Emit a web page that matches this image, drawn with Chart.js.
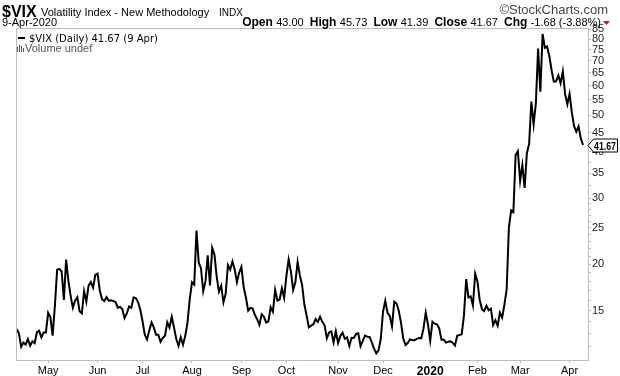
<!DOCTYPE html>
<html>
<head>
<meta charset="utf-8">
<script src="https://cdn.jsdelivr.net/npm/chart.js@4/dist/chart.umd.min.js"></script>
<style>
  html, body { margin:0; padding:0; background:#fff; }
  #wrap { width:620px; height:376px; }
</style>
</head>
<body>
<div id="wrap"><canvas id="vixChart" width="620" height="376"></canvas></div>
<script>
// daily closes of $VIX, 10-Apr-2019 .. 9-Apr-2020, one array per month
var apr19 = [13.40, 13.02, 12.01, 12.32, 12.18, 12.60, 12.09, 12.42, 12.28, 13.14, 13.25, 12.73, 13.11, 13.12]
var may19 = [14.80, 14.42, 12.87, 15.44, 19.32, 19.40, 19.10, 16.04, 20.55, 18.06, 16.44, 15.29, 15.96, 16.31, 14.95, 14.75, 16.92, 15.85, 17.50, 17.90, 17.30, 18.71]
var jun19 = [18.86, 16.97, 16.09, 15.93, 16.30, 15.94, 15.99, 15.91, 15.82, 15.28, 15.35, 15.15, 14.33, 14.75, 15.40, 15.26, 16.28, 16.21, 15.82, 15.08]
var jul19 = [14.06, 12.93, 12.57, 13.28, 13.96, 13.53, 12.93, 12.93, 12.39, 12.68, 12.86, 13.97, 13.53, 14.45, 13.53, 12.61, 12.07, 12.74, 12.16, 12.83, 13.94, 16.12]
var aug19 = [17.87, 17.61, 24.59, 20.17, 19.49, 16.91, 17.97, 21.09, 17.52, 22.10, 21.18, 18.47, 16.88, 17.50, 15.80, 16.68, 19.87, 19.32, 20.31, 19.35, 17.88, 18.98]
var sep19 = [19.66, 17.33, 16.27, 15.00, 15.27, 15.20, 14.61, 14.22, 13.74, 14.67, 14.44, 13.95, 14.05, 15.32, 14.91, 17.05, 15.96, 16.07, 17.22, 16.24]
var oct19 = [18.56, 20.56, 19.12, 17.04, 17.86, 20.28, 18.64, 17.57, 15.58, 14.57, 13.54, 13.68, 13.79, 14.25, 14.00, 14.46, 14.01, 13.71, 12.65, 13.11, 13.20, 12.33, 13.22]
var nov19 = [12.30, 12.83, 13.10, 12.62, 12.73, 12.07, 12.69, 12.68, 13.00, 13.05, 12.05, 12.46, 12.86, 12.78, 12.76, 12.34, 11.87, 11.54, 11.75, 12.62]
var dec19 = [14.91, 15.96, 14.80, 14.52, 13.62, 15.86, 15.68, 14.99, 13.94, 12.63, 12.14, 12.29, 12.58, 12.50, 12.51, 12.61, 12.67, 12.65, 13.43, 14.82, 13.78]
var jan20 = [12.47, 14.02, 13.85, 13.79, 13.45, 12.54, 12.56, 12.32, 12.39, 12.42, 12.32, 12.10, 12.85, 12.91, 12.98, 14.56, 18.23, 16.28, 16.39, 15.49, 18.84]
var feb20 = [17.97, 16.05, 15.15, 14.96, 15.47, 15.04, 15.18, 13.74, 14.15, 13.68, 14.83, 14.38, 15.56, 17.08, 25.03, 27.85, 27.56, 39.16, 40.11]
var mar20 = [33.42, 36.82, 31.99, 39.62, 41.94, 54.46, 47.30, 53.90, 75.47, 57.83, 82.69, 75.91, 76.45, 72.00, 66.04, 61.59, 61.67, 63.95, 61.00, 65.54, 57.08, 53.54]
var apr20 = [57.06, 50.91, 46.80, 45.24, 46.70, 43.35, 41.67]

var months = [apr19, may19, jun19, jul19, aug19, sep19, oct19, nov19, dec19, jan20, feb20, mar20, apr20]
var monthNames = ['', 'May', 'Jun', 'Jul', 'Aug', 'Sep', 'Oct', 'Nov', 'Dec', '2020', 'Feb', 'Mar', 'Apr']

var yLabels = [85, 80, 75, 70, 65, 60, 55, 50, 45, 40, 35, 30, 25, 20, 15]
var yMinor = [12, 13, 14, 16, 17, 18, 19, 21, 22, 23, 24, 26, 27, 28, 29, 32.5, 37.5]

var quote = {date:'9-Apr-2020', open:'43.00', high:'45.73', low:'41.39', close:'41.67', chg:'-1.68 (-3.88%)'}

// flatten months, remember where each month starts
var vix = []
var monthStart = []
for (var m = 0; m < months.length; m++) {
    monthStart.push(vix.length)
    vix = vix.concat(months[m])
}
var points = vix.map(function(v, i){ return {x:i, y:v} })
var lastVal = vix[vix.length - 1]

var FONT = '"Liberation Sans", Arial, sans-serif'

var decor = {
    id: 'decor',
    beforeDraw: function(chart){
        var c = chart.ctx
        c.save()
        c.fillStyle = '#fff'
        c.fillRect(0, 0, chart.width, chart.height)
        c.restore()
    },
    afterDraw: function(chart){
        var c = chart.ctx
        var a = chart.chartArea
        c.save()
        // top + left frame
        c.strokeStyle = '#bdbdbd'
        c.lineWidth = 1
        c.beginPath()
        c.moveTo(a.left + 0.5, a.bottom)
        c.lineTo(a.left + 0.5, a.top + 0.5)
        c.lineTo(a.right, a.top + 0.5)
        c.stroke()

        // title row
        c.fillStyle = '#000'
        c.textBaseline = 'alphabetic'
        c.font = 'bold 16px ' + FONT
        c.fillText('$VIX', 2, 17)
        c.font = '11px ' + FONT
        c.fillText('Volatility Index - New Methodology', 41, 16)
        c.font = '10px ' + FONT
        c.fillText('INDX', 219, 16)
        c.fillStyle = '#444'
        c.font = '13px ' + FONT
        c.textAlign = 'right'
        c.fillText('\u00A9StockCharts.com', 608, 14)
        c.textAlign = 'left'

        // date + quote row
        c.fillStyle = '#000'
        c.font = '11px ' + FONT
        c.fillText(quote.date, 2, 26)
        var parts = [['Open ', 1], [quote.open + '  ', 0], ['High ', 1], [quote.high + '  ', 0],
                     ['Low ', 1], [quote.low + '  ', 0], ['Close ', 1], [quote.close + '  ', 0],
                     ['Chg ', 1], [quote.chg, 0]]
        var total = 0
        parts.forEach(function(p){
            c.font = (p[1] ? 'bold 12px ' : '11px ') + FONT
            total += c.measureText(p[0]).width
        })
        var x = 601 - total
        parts.forEach(function(p){
            c.font = (p[1] ? 'bold 12px ' : '11px ') + FONT
            c.fillText(p[0], x, 26)
            x += c.measureText(p[0]).width
        })
        c.fillStyle = '#a3243b'
        c.beginPath()
        c.moveTo(603, 21); c.lineTo(610, 21); c.lineTo(606.5, 25); c.closePath()
        c.fill()

        // legend
        c.strokeStyle = '#000'
        c.lineWidth = 2
        c.beginPath(); c.moveTo(18, 38); c.lineTo(25, 38); c.stroke()
        c.fillStyle = '#000'
        c.font = '10px "DejaVu Sans", sans-serif'
        c.fillText('$VIX (Daily) ' + lastVal.toFixed(2) + ' (9 Apr)', 29, 42, 148)
        c.fillStyle = '#555'
        c.fillRect(17, 47, 1, 5); c.fillRect(19, 45, 1, 7); c.fillRect(21, 46, 1, 6); c.fillRect(23, 48, 1, 4)
        c.font = '11px ' + FONT
        c.fillText('Volume undef', 25, 52)

        // last value tag on the right axis
        var y = Math.round(chart.scales.y.getPixelForValue(lastVal)) + 0.5
        c.fillStyle = '#fff'
        c.strokeStyle = '#000'
        c.lineWidth = 1
        c.beginPath()
        c.moveTo(588, y)
        c.lineTo(593.5, y - 6.5)
        c.lineTo(617.5, y - 6.5)
        c.lineTo(617.5, y + 6.5)
        c.lineTo(593.5, y + 6.5)
        c.closePath()
        c.fill(); c.stroke()
        c.fillStyle = '#000'
        c.font = 'bold 11px ' + FONT
        c.fillText(lastVal.toFixed(2), 594, y + 4, 22)
        c.restore()
    }
}

var ctx = document.getElementById('vixChart').getContext('2d')
var vixChart = new Chart(ctx, {
    type: 'line',
    plugins: [decor],
    data: {
        datasets: [{
            label: '$VIX',
            data: points,
            borderColor: '#000',
            borderWidth: 2,
            pointRadius: 0,
            tension: 0,
            fill: false
        }]
    },
    options: {
        responsive: false,
        animation: false,
        devicePixelRatio: 1,
        layout: { padding: { left: 16, top: 28, right: 0, bottom: 0 } },
        plugins: { legend: { display: false }, tooltip: { enabled: false } },
        scales: {
            x: {
                type: 'linear',
                bounds: 'data',
                min: -0.3,
                max: 254.2,
                afterBuildTicks: function(scale){
                    scale.ticks = monthStart.slice(1).map(function(v){ return {value: v} })
                },
                afterFit: function(scale){ scale.height = 16 },
                grid: { drawOnChartArea: false, drawTicks: true, tickLength: 3, color: '#bdbdbd' },
                border: { display: true, color: '#bdbdbd' },
                ticks: {
                    autoSkip: false,
                    maxRotation: 0,
                    padding: 1,
                    color: '#000',
                    font: function(c){
                        var bold = c.tick && c.tick.label === '2020'
                        return { family: FONT, size: bold ? 12 : 11, weight: bold ? 'bold' : 'normal' }
                    },
                    callback: function(v){
                        var k = monthStart.indexOf(v)
                        return k > 0 ? monthNames[k] : ''
                    }
                }
            },
            y: {
                type: 'logarithmic',
                position: 'right',
                bounds: 'data',
                min: 11.07,
                max: 85.7,
                afterBuildTicks: function(scale){
                    scale.ticks = yLabels.concat(yMinor).sort(function(a, b){ return a - b })
                        .map(function(v){ return {value: v} })
                },
                afterFit: function(scale){ scale.width = 32 },
                grid: { drawOnChartArea: false, drawTicks: true, tickLength: 3, color: '#bdbdbd' },
                border: { display: true, color: '#bdbdbd' },
                ticks: {
                    autoSkip: false,
                    padding: 1,
                    color: '#222',
                    font: { family: FONT, size: 11 },
                    callback: function(v){
                        return yLabels.indexOf(v) >= 0 ? String(v) : ''
                    }
                }
            }
        }
    }
})
</script>
</body>
</html>
